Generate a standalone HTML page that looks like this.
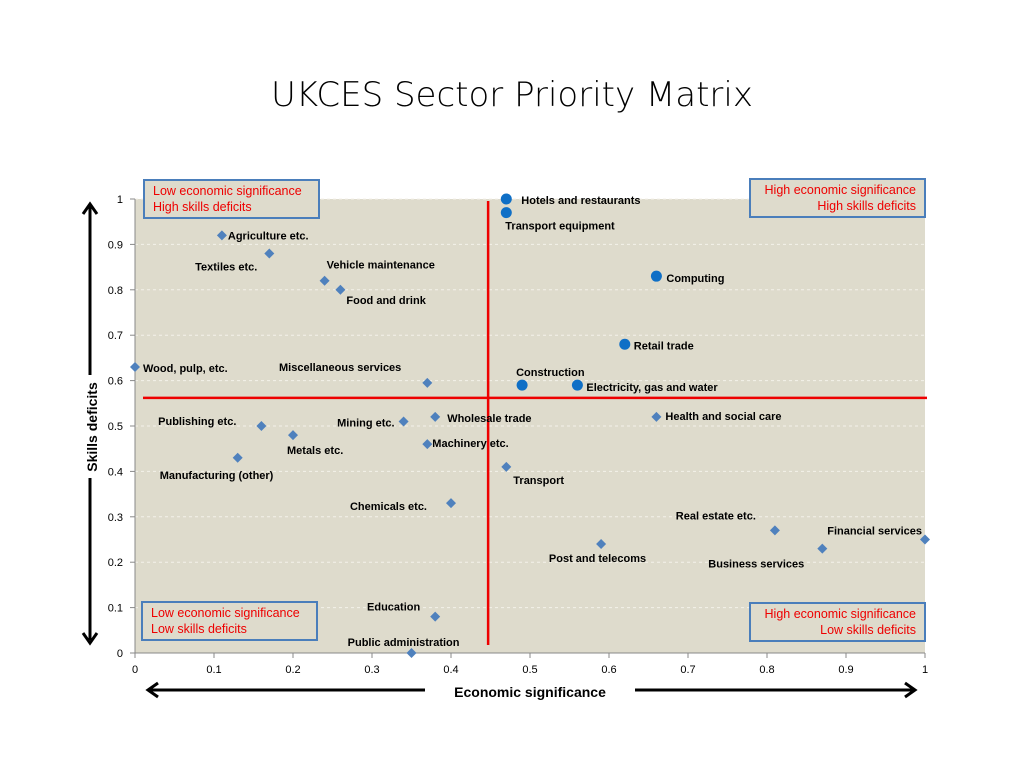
<!DOCTYPE html>
<html><head><meta charset="utf-8"><style>
body{margin:0;background:#fff;width:1024px;height:768px;overflow:hidden;font-family:"Liberation Sans",sans-serif}
.q{position:absolute;background:#dedbcc;border:2px solid #4a7ebb;color:#e00;font-size:12.5px;line-height:16px;padding:2px 8px}
</style></head><body>
<div style="position:absolute;top:75px;width:1024px;text-align:center;font-size:34px;font-family:'DejaVu Sans','Liberation Sans',sans-serif;font-weight:300">UKCES Sector Priority Matrix</div>
<svg id="c" width="1024" height="768" style="position:absolute;left:0;top:0"></svg>
<div class="q" style="left:143px;top:179px;width:157px">Low economic significance<br>High skills deficits</div>
<div class="q" style="left:749px;top:178px;width:157px;text-align:right">High economic significance<br>High skills deficits</div>
<div class="q" style="left:141px;top:601px;width:157px">Low economic significance<br>Low skills deficits</div>
<div class="q" style="left:749px;top:602px;width:157px;text-align:right">High economic significance<br>Low skills deficits</div>
<script>
const names=["Agriculture etc.","Textiles etc.","Vehicle maintenance","Food and drink","Wood, pulp, etc.","Miscellaneous services","Publishing etc.","Mining etc.","Wholesale trade","Metals etc.","Machinery etc.","Manufacturing (other)","Transport","Chemicals etc.","Health and social care","Real estate etc.","Financial services","Business services","Post and telecoms","Education","Public administration"];
const econ=[0.11,0.17,0.24,0.26,0,0.37,0.16,0.34,0.38,0.20,0.37,0.13,0.47,0.40,0.66,0.81,1.0,0.87,0.59,0.38,0.35];
const skills=[0.92,0.88,0.82,0.80,0.63,0.595,0.50,0.51,0.52,0.48,0.46,0.43,0.41,0.33,0.52,0.27,0.25,0.23,0.24,0.08,0];
const pNames=["Hotels and restaurants","Transport equipment","Computing","Retail trade","Construction","Electricity, gas and water"];
const pEcon=[0.47,0.47,0.66,0.62,0.49,0.56];
const pSkills=[1.0,0.97,0.83,0.68,0.59,0.59];
const xTicks=[0,0.1,0.2,0.3,0.4,0.5,0.6,0.7,0.8,0.9,1];
const yTicks=[0,0.1,0.2,0.3,0.4,0.5,0.6,0.7,0.8,0.9,1];
const thrX=0.447, thrY=0.562;
// label offsets [dx,dy,anchor]
const off=[[6,4,"start"],[-12,17,"end"],[2,-12,"start"],[6,14,"start"],[8,5,"start"],[-26,-12,"end"],[-25,-1,"end"],[-9,5,"end"],[12,5,"start"],[-6,19,"start"],[5,3,"start"],[-78,21,"start"],[7,17,"start"],[-24,7,"end"],[9,3,"start"],[-19,-11,"end"],[-3,-5,"end"],[-18,19,"end"],[45,18,"end"],[-15,-6,"end"],[48,-7,"end"]];
const pOff=[[15,5,"start"],[-1,17,"start"],[10,6,"start"],[9,5,"start"],[-6,-9,"start"],[9,6,"start"]];
const X0=135,X1=925,Y0=653,Y1=199;
const px=v=>X0+(X1-X0)*v, py=v=>Y0-(Y0-Y1)*v;
const s=document.getElementById('c'),NS="http://www.w3.org/2000/svg";
function mk(t,a,txt){const e=document.createElementNS(NS,t);for(const k in a)e.setAttribute(k,a[k]);if(txt!=null)e.textContent=txt;s.appendChild(e);return e;}
let e=mk('rect',{x:X0,y:Y1,width:X1-X0,height:Y0-Y1,fill:'#dedbcc'});

yTicks.forEach(t=>{
 if(t>0){e=mk('line',{x1:X0,x2:X1,y1:py(t),y2:py(t),stroke:'#f4f2ea','stroke-dasharray':'3,3'});}
 e=mk('line',{x1:X0-5,x2:X0,y1:py(t),y2:py(t),stroke:'#888'});
 e=mk('text',{x:X0-12,y:py(t)+4,'font-size':11,'text-anchor':'end'},String(t));
});
xTicks.forEach(t=>{
 e=mk('line',{x1:px(t),x2:px(t),y1:Y0,y2:Y0+5,stroke:'#888'});
 e=mk('text',{x:px(t),y:Y0+20,'font-size':11,'text-anchor':'middle'},String(t));
});
e=mk('line',{x1:X0,x2:X0,y1:Y1,y2:Y0,stroke:'#888'});
e=mk('line',{x1:X0,x2:X1,y1:Y0,y2:Y0,stroke:'#888'});
e=mk('line',{x1:px(thrX),x2:px(thrX),y1:Y1+2,y2:Y0-8,stroke:'#e00','stroke-width':2.5});
e=mk('line',{x1:X0+8,x2:X1+2,y1:py(thrY),y2:py(thrY),stroke:'#e00','stroke-width':2.5});
names.forEach((n,i)=>{
 const x=px(econ[i]),y=py(skills[i]);
 e=mk('polygon',{points:`${x},${y-5} ${x+5},${y} ${x},${y+5} ${x-5},${y}`,fill:'#4f81bd'});
 e=mk('text',{x:x+off[i][0],y:y+off[i][1],'text-anchor':off[i][2],'font-size':11,'font-weight':'bold'},n);
});
pNames.forEach((n,i)=>{
 const x=px(pEcon[i]),y=py(pSkills[i]);
 e=mk('circle',{cx:x,cy:y,r:5.5,fill:'#0f6fc6'});
 e=mk('text',{x:x+pOff[i][0],y:y+pOff[i][1],'text-anchor':pOff[i][2],'font-size':11,'font-weight':'bold'},n);
});
// axis titles and arrows
e=mk('text',{x:530,y:697,'text-anchor':'middle','font-size':14,'font-weight':'bold'},'Economic significance');
e=mk('text',{x:0,y:0,'text-anchor':'middle','font-size':14,'font-weight':'bold',transform:'translate(97,427) rotate(-90)'},'Skills deficits');
const ar=(x1,y1,x2,y2,nm)=>{e=mk('line',{x1,y1,x2,y2,stroke:'#000','stroke-width':3});};
ar(150,690,425,690,'x-arrow-left');ar(635,690,913,690,'x-arrow-right');
ar(90,206,90,375,'y-arrow-up');ar(90,478,90,640,'y-arrow-down');
const head=(p,nm)=>{e=mk('polyline',{points:p,fill:'none',stroke:'#000','stroke-width':3});};
head('158,683 148,690 158,697','x-arrowhead-left');head('905,683 915,690 905,697','x-arrowhead-right');
head('83,214 90,204 97,214','y-arrowhead-up');head('83,633 90,643 97,633','y-arrowhead-down');
</script>
</body></html>
